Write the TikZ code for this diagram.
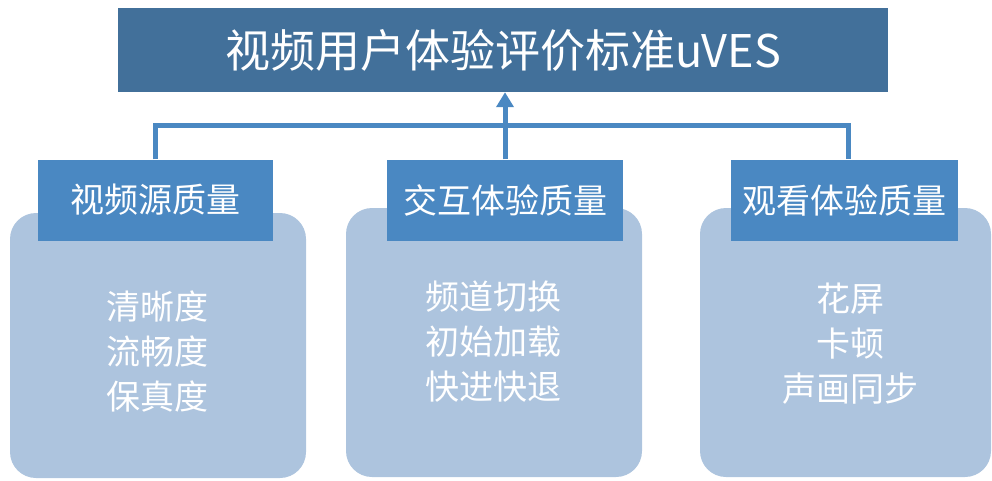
\documentclass[tikz,border=0pt]{standalone}
\usepackage{fontspec}
\setmainfont{Noto Sans CJK SC}
\usetikzlibrary{arrows.meta}
\definecolor{topblue}{RGB}{66,112,154}
\definecolor{catblue}{RGB}{74,136,194}
\definecolor{lightbox}{RGB}{173,196,222}
\definecolor{linkblue}{RGB}{74,136,194}
\tikzset{
  panel/.style={fill=lightbox, draw=none, rounded corners=26pt},
  catbox/.style={fill=catblue, draw=none, text=white, inner sep=0pt, minimum height=81pt, font=\fontsize{34}{36}\selectfont},
  items/.style={text=white, font=\fontsize{34}{45}\selectfont, align=center},
  link/.style={draw=linkblue, line width=5pt},
}
\begin{document}
\begin{tikzpicture}[x=1pt,y=-1pt]
\useasboundingbox (0,0) rectangle (992,480);
% panels
\fill[panel] (10,213) rectangle (306,478);
\fill[panel] (346,208) rectangle (642,477);
\fill[panel] (700,208) rectangle (991,477);
% top box
\node[fill=topblue, minimum width=770pt, minimum height=84pt, inner sep=0pt, text=white,
      font=\fontsize{45}{48}\selectfont] (top) at (503,50) {视频用户体验评价标准uVES};
% category boxes
\node[catbox, minimum width=235pt] (c1) at (155.5,200) {视频源质量};
\node[catbox, minimum width=236pt] (c2) at (505,200) {交互体验质量};
\node[catbox, minimum width=227pt] (c3) at (844.5,200) {观看体验质量};
% items
\node[items] (i1) at (157,351) {清晰度\\流畅度\\保真度};
\node[items] (i2) at (493,342) {频道切换\\初始加载\\快进快退};
\node[items] (i3) at (850,344) {花屏\\卡顿\\声画同步};
% connectors
\coordinate (hl) at (155,125);
\coordinate (hr) at (848,125);
\coordinate (hm) at (505,125);
\draw[link] (c1.north -| hl) -- (hl) -- (hr) -- (c3.north -| hr);
\draw[link] (c2.north) -- (hm);
\draw[link, -{Triangle[length=15pt,width=17pt]}] (hm) -- (top.south -| hm);
\end{tikzpicture}
\end{document}
